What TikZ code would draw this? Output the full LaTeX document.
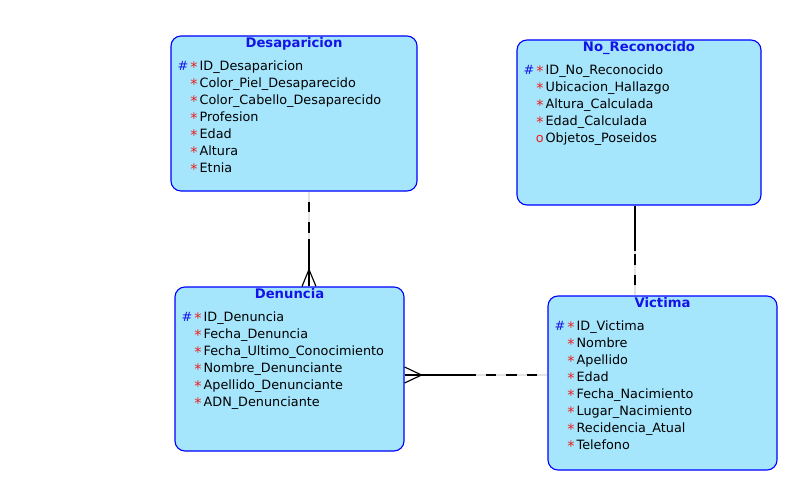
\documentclass[tikz,border=0pt]{standalone}
\usepackage{fontspec}
\setmainfont{DejaVu Sans}
\usetikzlibrary{calc}
\definecolor{entfill}{RGB}{166,230,253}
\definecolor{entblue}{RGB}{0,0,255}
\definecolor{ttlblue}{RGB}{20,20,230}
\definecolor{reqred}{RGB}{235,30,30}
\definecolor{underlay}{RGB}{228,228,228}
\newcommand\mkstar{\textcolor{reqred}{\raisebox{-1.2pt}{\fontsize{14.5}{15}\selectfont *}}}
\newcommand\mkpk{\textcolor{ttlblue}{\#}\hspace{2pt}\mkstar}
\newcommand\mkrq{\mkstar}
\newcommand\mkop{\textcolor{reqred}{o}}
\newcommand\attr[2]{\makebox[0pt][r]{#1\hspace{2pt}}#2}
\begin{document}
\begin{tikzpicture}[x=1pt,y=-1pt,
  entbox/.style={draw=entblue, fill=entfill, line width=1.1pt, rounded corners=10pt, rectangle, inner sep=0pt},
  ttl/.style={font=\fontsize{13.2}{15}\bfseries\selectfont, text=ttlblue, inner sep=0pt, anchor=base},
  att/.style={font=\fontsize{12.8}{15}\selectfont, inner sep=0pt, anchor=base west},
  rel/.style={line width=1.15pt, black},
  relbg/.style={line width=1.6pt, underlay},
  reldash/.style={rel, dash pattern=on 10.5pt off 10pt, dash phase=10.5pt}]
\useasboundingbox[fill=white] (0,0) rectangle (789,481);

% Desaparicion
\node[entbox, minimum width=246pt, minimum height=155pt] (desap) at (294,113.5) {};
\node[ttl] (desap-t) at ([yshift=-12.5pt]desap.north) {Desaparicion};
\foreach[count=\i] \m/\t in {\mkpk/ID\_Desaparicion, \mkrq/Color\_Piel\_Desaparecido, \mkrq/Color\_Cabello\_Desaparecido, \mkrq/Profesion, \mkrq/Edad, \mkrq/Altura, \mkrq/Etnia}
  \node[att] (desap-\i) at ([xshift=29pt,yshift={-35.5pt-(\i-1)*17pt}]desap.north west) {\attr{\m}{\t}};

% No_Reconocido
\node[entbox, minimum width=244pt, minimum height=165pt] (nr) at (639,122.5) {};
\node[ttl] (nr-t) at ([yshift=-12.5pt]nr.north) {No\_Reconocido};
\foreach[count=\i] \m/\t in {\mkpk/ID\_No\_Reconocido, \mkrq/Ubicacion\_Hallazgo, \mkrq/Altura\_Calculada, \mkrq/Edad\_Calculada, \mkop/Objetos\_Poseidos}
  \node[att] (nr-\i) at ([xshift=29pt,yshift={-35.5pt-(\i-1)*17pt}]nr.north west) {\attr{\m}{\t}};

% Denuncia
\node[entbox, minimum width=229pt, minimum height=164pt] (dn) at (289.5,369) {};
\node[ttl] (dn-t) at ([yshift=-12.5pt]dn.north) {Denuncia};
\foreach[count=\i] \m/\t in {\mkpk/ID\_Denuncia, \mkrq/Fecha\_Denuncia, \mkrq/Fecha\_Ultimo\_Conocimiento, \mkrq/Nombre\_Denunciante, \mkrq/Apellido\_Denunciante, \mkrq/ADN\_Denunciante}
  \node[att] (dn-\i) at ([xshift=29pt,yshift={-35.5pt-(\i-1)*17pt}]dn.north west) {\attr{\m}{\t}};

% Victima
\node[entbox, minimum width=229pt, minimum height=174pt] (vic) at (662.5,383) {};
\node[ttl] (vic-t) at ([yshift=-12.5pt]vic.north) {Victima};
\foreach[count=\i] \m/\t in {\mkpk/ID\_Victima, \mkrq/Nombre, \mkrq/Apellido, \mkrq/Edad, \mkrq/Fecha\_Nacimiento, \mkrq/Lugar\_Nacimiento, \mkrq/Recidencia\_Atual, \mkrq/Telefono}
  \node[att] (vic-\i) at ([xshift=29pt,yshift={-35.5pt-(\i-1)*17pt}]vic.north west) {\attr{\m}{\t}};

% Desaparicion -- Denuncia
\coordinate (x1) at (309,0);
\coordinate (m1) at (309,239);
\draw[relbg] (x1 |- desap.south) -- (m1);
\draw[reldash] (x1 |- desap.south) -- (m1);
\draw[rel] (m1) -- (x1 |- dn.north);
\draw[rel] ($(x1 |- dn.north)+(-7,0)$) -- ($(x1 |- dn.north)+(0,-17)$) -- ($(x1 |- dn.north)+(7,0)$);

% Denuncia -- Victima
\coordinate (y2) at (0,375);
\coordinate (m2) at (476,375);
\draw[relbg] (vic.west |- y2) -- (m2);
\draw[reldash] (vic.west |- y2) -- (m2);
\draw[rel] (m2) -- (dn.east |- y2);
\draw[rel] ($(dn.east |- y2)+(0,-8)$) -- ($(dn.east |- y2)+(17,0)$) -- ($(dn.east |- y2)+(0,8)$);

% No_Reconocido -- Victima
\coordinate (x3) at (635,0);
\coordinate (m3) at (635,250.5);
\draw[rel] (x3 |- nr.south) -- (m3);
\draw[relbg] (x3 |- vic.north) -- (m3);
\draw[reldash] (x3 |- vic.north) -- (m3);
\end{tikzpicture}
\end{document}
